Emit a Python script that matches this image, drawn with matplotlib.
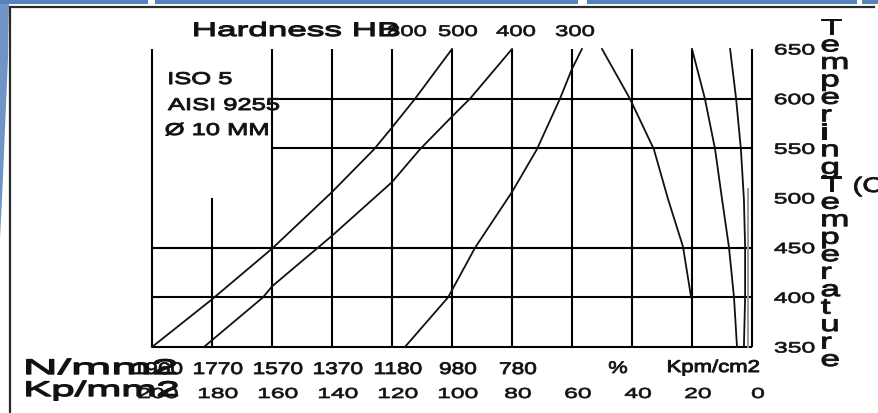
import numpy as np
import matplotlib
matplotlib.use("Agg")
import matplotlib.pyplot as plt
from matplotlib.patheffects import AbstractPathEffect
from matplotlib.transforms import Affine2D, blended_transform_factory
from matplotlib.patches import Polygon
from matplotlib.lines import Line2D

# ---------------- data ----------------
kp_ticks = [200, 180, 160, 140, 120, 100, 80, 60, 40, 20, 0]
kp_labels = ["200", "180", "160", "140", "120", "100", "80", "60", "40", "20", "0"]
n_ticks = [200, 180, 160, 140, 120, 100, 80]
n_labels = ["1960", "1770", "1570", "1370", "1180", "980", "780"]
hb_labels = ["800", "500", "400", "300"]
temp_ticks = [650, 600, 550, 500, 450, 400, 350]
temp_labels = ["650", "600", "550", "500", "450", "400", "350"]

# curves: x in Kp/mm2 (axis runs 200 -> 0), t = tempering temperature (C)
tensile_x = [200, 180, 160, 140, 126, 120, 112.3, 100]
tensile_t = [350, 398, 449, 506, 549, 571, 600, 650]
yield_x = [182.7, 163, 160, 140, 120, 110.7, 100, 94, 80]
yield_t = [350, 400, 411, 462, 516, 549, 582, 600, 650]
hardness_x = [115.7, 101.3, 92.3, 80, 71.7, 64, 60, 56.7]
hardness_t = [350, 400, 450, 506, 549, 600, 630, 650]
area_x = [50, 40.7, 32.7, 28, 23, 20.3]
area_t = [650, 600, 549, 499, 451, 400]
elong_x = [20, 15.7, 12.3, 10, 7.7, 6, 5]
elong_t = [650, 600, 549, 499, 451, 400, 350]
impact_x = [7.3, 5.3, 3.7, 2.7, 2.3, 2.3, 2.7]
impact_t = [650, 600, 549, 499, 451, 400, 350]
impact2_x = [1.3, 1.3]
impact2_t = [509, 350]

# grid lines
full_vlines = [200, 160, 140, 120, 100, 80, 60, 40, 20, 0]
short_vline = 180
short_vline_top = 500
short_hlines = [600, 550]
long_hlines = [450, 400, 350]

# ---------------- figure ----------------
W, H = 879, 414
fig = plt.figure(figsize=(W / 100, H / 100), dpi=100)
fig.patch.set_facecolor("white")
px = Affine2D().scale(1 / W, -1 / H).translate(0, 1) + fig.transFigure

TXT = "#111111"


class Stretch(AbstractPathEffect):
    """Horizontally widen glyphs (the reference text is stretched) and thicken them a bit."""

    def __init__(self, sx, anchor="left", stroke=0.0):
        super().__init__()
        self.sx = sx
        self.anchor = anchor
        self.stroke = stroke

    def draw_path(self, renderer, gc, tpath, affine, rgbFace=None):
        ext = tpath.get_extents(affine)
        if self.anchor == "left":
            a = ext.x0
        elif self.anchor == "right":
            a = ext.x1
        else:
            a = 0.5 * (ext.x0 + ext.x1)
        tr = affine + Affine2D().translate(-a, 0).scale(self.sx, 1.0).translate(a, 0)
        gc0 = renderer.new_gc()
        gc0.copy_properties(gc)
        if self.stroke > 0 and rgbFace is not None:
            gc0.set_linewidth(self.stroke)
            gc0.set_foreground(rgbFace)
            gc0.set_joinstyle("round")
        renderer.draw_path(gc0, tpath, tr, rgbFace)
        gc0.restore()


def txt(x, y, s, em, sx, ha="left", va="baseline", transform=None, stroke=0.5, **kw):
    fig.text(x, y, s, fontsize=em * 0.72, family=["Liberation Sans", "DejaVu Sans"],
             ha=ha, va=va, color=TXT, transform=transform if transform is not None else px,
             path_effects=[Stretch(sx, ha, stroke)], **kw)


# decoration: blue header bar and left shape
bar_color = "#5683bd"
for x0, x1 in [(0, 148), (155, 578), (587, 857), (862, 879)]:
    fig.add_artist(Polygon([(x0, 0), (x1, 0), (x1, 5), (x0, 5)], closed=True,
                           transform=px, facecolor=bar_color, edgecolor="none"))
fig.add_artist(Polygon([(0, 0), (9, 0), (8, 60), (5, 130), (2, 200), (0, 240)], closed=True,
                       transform=px, facecolor=bar_color, edgecolor="none", alpha=0.85))
# frame
fig.add_artist(Line2D([10, 10], [8, 414], transform=px, color="#2a2a2a", lw=1.6))
fig.add_artist(Line2D([10, 874], [8, 8], transform=px, color="#2a2a2a", lw=1.6))

# ---------------- axes ----------------
ax = fig.add_axes([152 / W, 66 / H, 600 / W, 298 / H])
ax.set_xlim(200, 0)
ax.set_ylim(350, 650)
ax.axis("off")

GLW = 1.5
for x in full_vlines:
    ax.plot([x, x], [350, 650], color="black", lw=GLW, clip_on=False, solid_capstyle="butt")
ax.plot([short_vline, short_vline], [350, short_vline_top], color="black", lw=GLW,
        clip_on=False, solid_capstyle="butt")
for y in short_hlines:
    ax.plot([160, 0], [y, y], color="black", lw=GLW, clip_on=False, solid_capstyle="butt")
for y in long_hlines:
    ax.plot([200, 0], [y, y], color="black", lw=GLW, clip_on=False, solid_capstyle="butt")

CLW = 1.3
for cx, ct in [(tensile_x, tensile_t), (yield_x, yield_t), (hardness_x, hardness_t),
               (area_x, area_t), (elong_x, elong_t), (impact_x, impact_t)]:
    ax.plot(cx, ct, color="#111111", lw=CLW, clip_on=False)
ax.plot(impact2_x, impact2_t, color="#9a9a9a", lw=1.4, clip_on=False)

# ---------------- texts ----------------
# top hardness scale
txt(193, 37, "Hardness HB", 19.5, 1.8, stroke=0.8)
for xc, lab in zip([407, 458, 516, 575], hb_labels):
    txt(xc, 37, lab, 15.4, 1.55, ha="center")

# specimen note
txt(168, 85, "ISO 5", 17, 1.5, stroke=0.7)
txt(168, 111, "AISI 9255", 17, 1.5, stroke=0.7)
txt(165, 136, "\u00d8 10 MM", 17, 1.5, stroke=0.7)

# bottom scales
bx = blended_transform_factory(ax.transData, px)
off6 = bx + Affine2D().translate(6, 0)
txt(25, 375, "N/mm2", 21, 2.3, stroke=1.0)
for x, lab in zip(n_ticks, n_labels):
    txt(x, 375, lab, 16.8, 1.35, ha="center", transform=off6, stroke=0.6)
txt(25, 397, "Kp/mm2", 21, 2.0, stroke=1.0)
for x, lab in zip(kp_ticks, kp_labels):
    txt(x, 399, lab, 14.5, 1.7, ha="center", transform=off6)
txt(618, 374, "%", 16.8, 1.3, ha="center", stroke=0.6)
txt(667, 373, "Kpm/cm2", 17, 1.3, stroke=0.7)

# right temperature scale
by = blended_transform_factory(px, ax.transData)
for y, lab in zip(temp_ticks, temp_labels):
    txt(815, y, lab, 15, 1.65, ha="right", va="center_baseline", transform=by)

# stacked axis title (one text, one letter per line); baseline = last line
txt(821, 367, "\n".join("TemperingTemperature"), 22, 1.6, linespacing=0.78, stroke=0.7)
txt(853, 193, "(C", 21, 1.4, stroke=0.6)

fig.savefig("out.png", dpi=100)
